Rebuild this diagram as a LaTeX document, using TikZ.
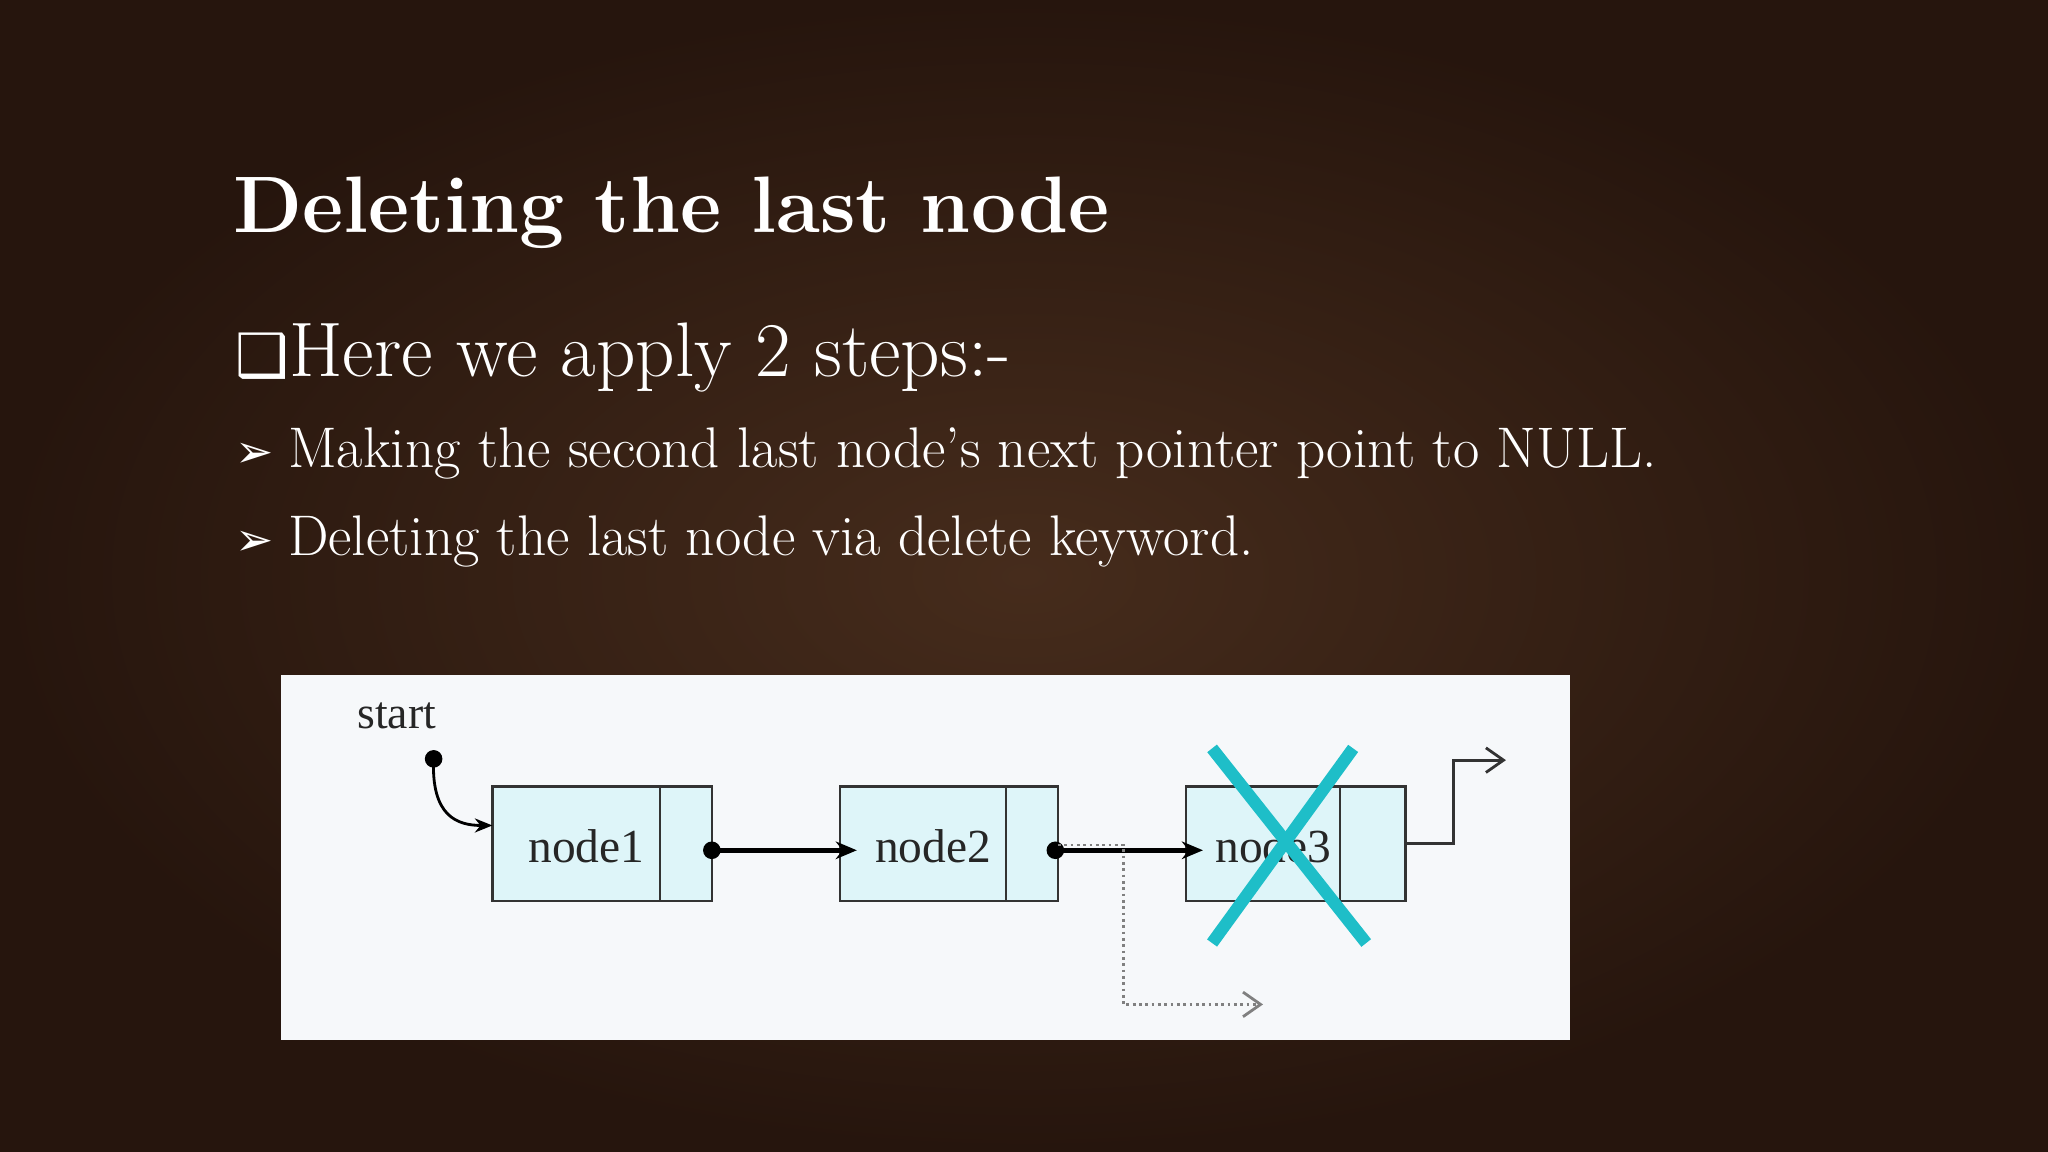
\documentclass[tikz,border=0pt]{standalone}
\usepackage{fontspec}
\newfontfamily\dejavu{DejaVu Sans}
\newfontfamily\tms{Liberation Serif}
\usetikzlibrary{arrows.meta,shapes.misc}
\definecolor{woodA}{RGB}{38,21,13}
\definecolor{woodB}{RGB}{70,44,28}
\definecolor{panel}{RGB}{246,248,250}
\definecolor{cellfill}{RGB}{222,245,249}
\definecolor{crossc}{RGB}{30,190,200}
\tikzset{
  cellbox/.style={draw=black!80,fill=cellfill,line width=0.7pt},
  link/.style={line width=1.3pt,-{Stealth[length=6pt,width=5pt]}},
  dotend/.style={circle,fill=black,inner sep=0pt,minimum size=5pt},
  wtext/.style={text=white,anchor=base west,inner sep=0pt},
}
\begin{document}
\begin{tikzpicture}[x=0.013061cm,y=-0.013061cm]
\useasboundingbox (0,0) rectangle (1568,882);
\shade[inner color=woodB,outer color=woodA] (0,0) rectangle (1568,882);
\node[wtext,font=\bfseries\fontsize{22.8}{27}\selectfont] (title) at (178,178) {Deleting the last node};
\node[wtext,font=\fontsize{22}{26}\selectfont] (l1) at (180,288) {{\dejavu\fontsize{17}{20}\selectfont ❑}Here we apply 2 steps:-};
\node[wtext,font=\fontsize{16.3}{20}\selectfont] (l2) at (180,358) {{\dejavu\fontsize{13}{16}\selectfont ➢}\hspace{4pt}Making the second last node’s next pointer point to NULL.};
\node[wtext,font=\fontsize{16.3}{20}\selectfont] (l3) at (180,425) {{\dejavu\fontsize{13}{16}\selectfont ➢}\hspace{4pt}Deleting the last node via delete keyword.};
\fill[panel] (215,517) rectangle (1202,796);
\node[anchor=base west,inner sep=0pt,text=black!85,font=\tms\fontsize{13}{15}\selectfont] (start) at (273,558) {start};
% cells
\foreach \n/\a/\d/\b in {1/377/505/545, 2/643/770/810, 3/908/1026/1076}{
  \draw[cellbox] (\a,602) rectangle (\b,690);
  \draw[black!80,line width=0.6pt] (\d,602) -- (\d,690);
  \coordinate (c\n) at ({(\a+\d)/2+8},648);
  \coordinate (r\n) at (\b,651);
}
\node[font=\tms\fontsize{13.5}{16}\selectfont,text=black!85] (n1) at (c1) {node1};
\node[font=\tms\fontsize{13.5}{16}\selectfont,text=black!85] (n2) at (c2) {node2};
\node[font=\tms\fontsize{13.5}{16}\selectfont,text=black!85] (n3) at (c3) {node3};
\coordinate (s0) at (332,581);
\coordinate (s1) at (377,632);
\node[dotend] (sd) at (s0) {};
\draw[line width=0.8pt,-{Stealth[length=5pt,width=4pt]}] (sd.center) .. controls (330,625) and (350,632) .. (s1);
\node[dotend] (d1) at (r1) {};
\node[dotend] (d2) at (808,651) {};
\coordinate (t2) at (656,651);
\coordinate (t3) at (921,651);
\draw[link] (d1.center) -- (t2);
\draw[link] (d2.center) -- (t3);
\coordinate (p1) at (860,769);
\coordinate (p2) at (967,769);
\draw[gray,densely dotted,line width=0.8pt,-{Straight Barb[length=5pt,width=7pt]}] (810,647) -- (860,647) -- (p1) -- (p2);
\coordinate (q1) at (1076,646);
\coordinate (q2) at (1153,582);
\draw[black!80,line width=0.8pt,-{Straight Barb[length=5pt,width=7pt]}] (q1) -- (1113,646) -- (1113,582) -- (q2);
\coordinate (x1) at (928,573); \coordinate (x2) at (1046,722);
\coordinate (x3) at (1036,573); \coordinate (x4) at (928,722);
\draw[crossc,line width=3.5pt] (x1) -- (x2);
\draw[crossc,line width=3.5pt] (x3) -- (x4);
\end{tikzpicture}
\end{document}
